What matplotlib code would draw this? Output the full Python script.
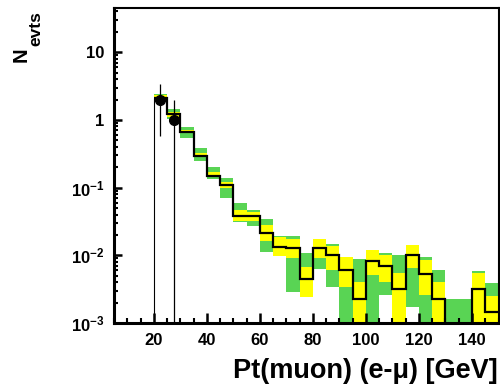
import numpy as np
import matplotlib
matplotlib.use("Agg")
import matplotlib.pyplot as plt
from matplotlib.ticker import FixedLocator, MultipleLocator, LogLocator, NullFormatter

plt.rcParams['font.family'] = 'Liberation Sans'
plt.rcParams['font.weight'] = 'bold'
plt.rcParams['mathtext.fontset'] = 'custom'
plt.rcParams['mathtext.rm'] = 'Liberation Sans:bold'
plt.rcParams['mathtext.bf'] = 'Liberation Sans:bold'
plt.rcParams['mathtext.it'] = 'Liberation Sans:bold'

# bin edges in GeV (5 GeV bins)
edges = [20, 25, 30, 35, 40, 45, 50, 55, 60, 65, 70, 75, 80, 85, 90,
         95, 100, 105, 110, 115, 120, 125, 130, 135, 140, 145, 150]

# expected events (black histogram)
mc = [2.11, 1.22, 0.653, 0.294, 0.149, 0.108, 0.0384, 0.0376, 0.0215, 0.0134,
      0.0129, 0.00442, 0.0129, 0.0101, 0.00606, 0.00226, 0.00831, 0.00701,
      0.00314, 0.0101, 0.00529, 0.00224, 0, 0, 0.00314, 0.00147]

# +-2 sigma band (green)
band2_hi = [2.45, 1.44, 0.79, 0.379, 0.199, 0.141, 0.0585, 0.0466, 0.0340, 0.0192,
            0.0192, 0.0107, 0.0172, 0.0147, 0.00933, 0.00871, 0.0120, 0.0107,
            0.0101, 0.0142, 0.00952, 0.00606, 0.00224, 0.00224, 0.00586, 0.00394]
band2_lo = [1.85, 1.02, 0.532, 0.249, 0.133, 0.0693, 0.0313, 0.0270, 0.0113, 0.00975,
            0.0029, 0.00239, 0.00621, 0.00336, 0, 0, 0, 0.00259,
            0, 0.00174, 0, 0, 0, 0, 0, 0]

# +-1 sigma band (yellow)
band1_hi = [2.32, 1.31, 0.706, 0.320, 0.171, 0.122, 0.0466, 0.0440, 0.0279, 0.0184,
            0.0172, 0.00678, 0.0172, 0.0138, 0.00933, 0.00407, 0.0120, 0.0101,
            0.00542, 0.0142, 0.00851, 0.00407, 0, 0, 0.00542, 0.00250]
band1_lo = [2.00, 1.11, 0.631, 0.285, 0.144, 0.0993, 0.0324, 0.0324, 0.0162, 0.00975,
            0.00902, 0.00239, 0.00902, 0.00606, 0.00336, 0, 0.00511, 0.00407,
            0, 0.00642, 0.00259, 0, 0, 0, 0, 0]

# observed data
data_x = [22.5, 27.5]
data_y = [2, 1]

xticks = [20, 40, 60, 80, 100, 120, 140]
yticks = [1e-3, 1e-2, 1e-1, 1, 10]
ylabels = [r'$\mathbf{10^{-3}}$', r'$\mathbf{10^{-2}}$', r'$\mathbf{10^{-1}}$', '1', '10']

floor = 1e-6
edges = np.array(edges, dtype=float)
lo_edge = edges[:-1]
width = np.diff(edges)

def fl(a):
    return np.maximum(np.array(a, dtype=float), floor)

fig = plt.figure(figsize=(5.0, 3.92), dpi=100)
ax = fig.add_axes([0.228, 0.176, 0.769, 0.8036])
ax.set_yscale('log')

green = '#59d454'
yellow = '#ffff00'
ax.bar(lo_edge, fl(band2_hi) - fl(band2_lo), bottom=fl(band2_lo), width=width,
       align='edge', color=green, linewidth=0)
ax.bar(lo_edge, fl(band1_hi) - fl(band1_lo), bottom=fl(band1_lo), width=width,
       align='edge', color=yellow, linewidth=0)

mcv = fl(mc)
ax.stairs(mcv, edges, baseline=None, color='black', linewidth=1.6)
ax.vlines(edges[0], floor, mcv[0], color='black', linewidth=0.8)

dy = np.sqrt(data_y)
dlow = np.minimum(dy, np.array(data_y) - floor)
ax.errorbar(data_x, data_y, yerr=[dlow, dy], fmt='o', color='black',
            markersize=7, elinewidth=0.9, capsize=0)

ax.set_xlim(5, 150)
ax.set_ylim(1e-3, 45)

ax.xaxis.set_major_locator(FixedLocator(xticks))
ax.xaxis.set_minor_locator(MultipleLocator(5))
ax.yaxis.set_major_locator(FixedLocator(yticks))
ax.set_yticklabels(ylabels)
ax.yaxis.set_minor_locator(LogLocator(base=10, subs=np.arange(2, 10)))
ax.yaxis.set_minor_formatter(NullFormatter())

ax.tick_params(axis='x', which='major', direction='in', length=7, width=1.8,
               labelsize=12, pad=7.5, top=False)
ax.tick_params(axis='x', which='minor', direction='in', length=3.5, width=1.5, top=False)
ax.tick_params(axis='y', which='major', direction='in', length=6, width=1.8,
               labelsize=12, pad=7, right=False)
ax.tick_params(axis='y', which='minor', direction='in', length=3, width=1.5, right=False)

for s in ['left', 'bottom']:
    ax.spines[s].set_linewidth(2.2)
for s in ['top', 'right']:
    ax.spines[s].set_linewidth(1.5)

# axis titles placed like the ROOT canvas
fig.text(0.996, 14 / 392, 'Pt(muon) (e-μ) [GeV]', fontsize=19.5, fontweight='bold',
         ha='right', va='baseline')
fig.text(21 / 500, 1 - 55 / 392, 'N', fontsize=14.5, fontweight='bold',
         rotation=90, ha='center', va='center')
fig.text(35.5 / 500, 1 - 28.5 / 392, 'evts', fontsize=12.5, fontweight='bold',
         rotation=90, ha='center', va='center')

fig.savefig('out.png', dpi=100)
plt.close()
